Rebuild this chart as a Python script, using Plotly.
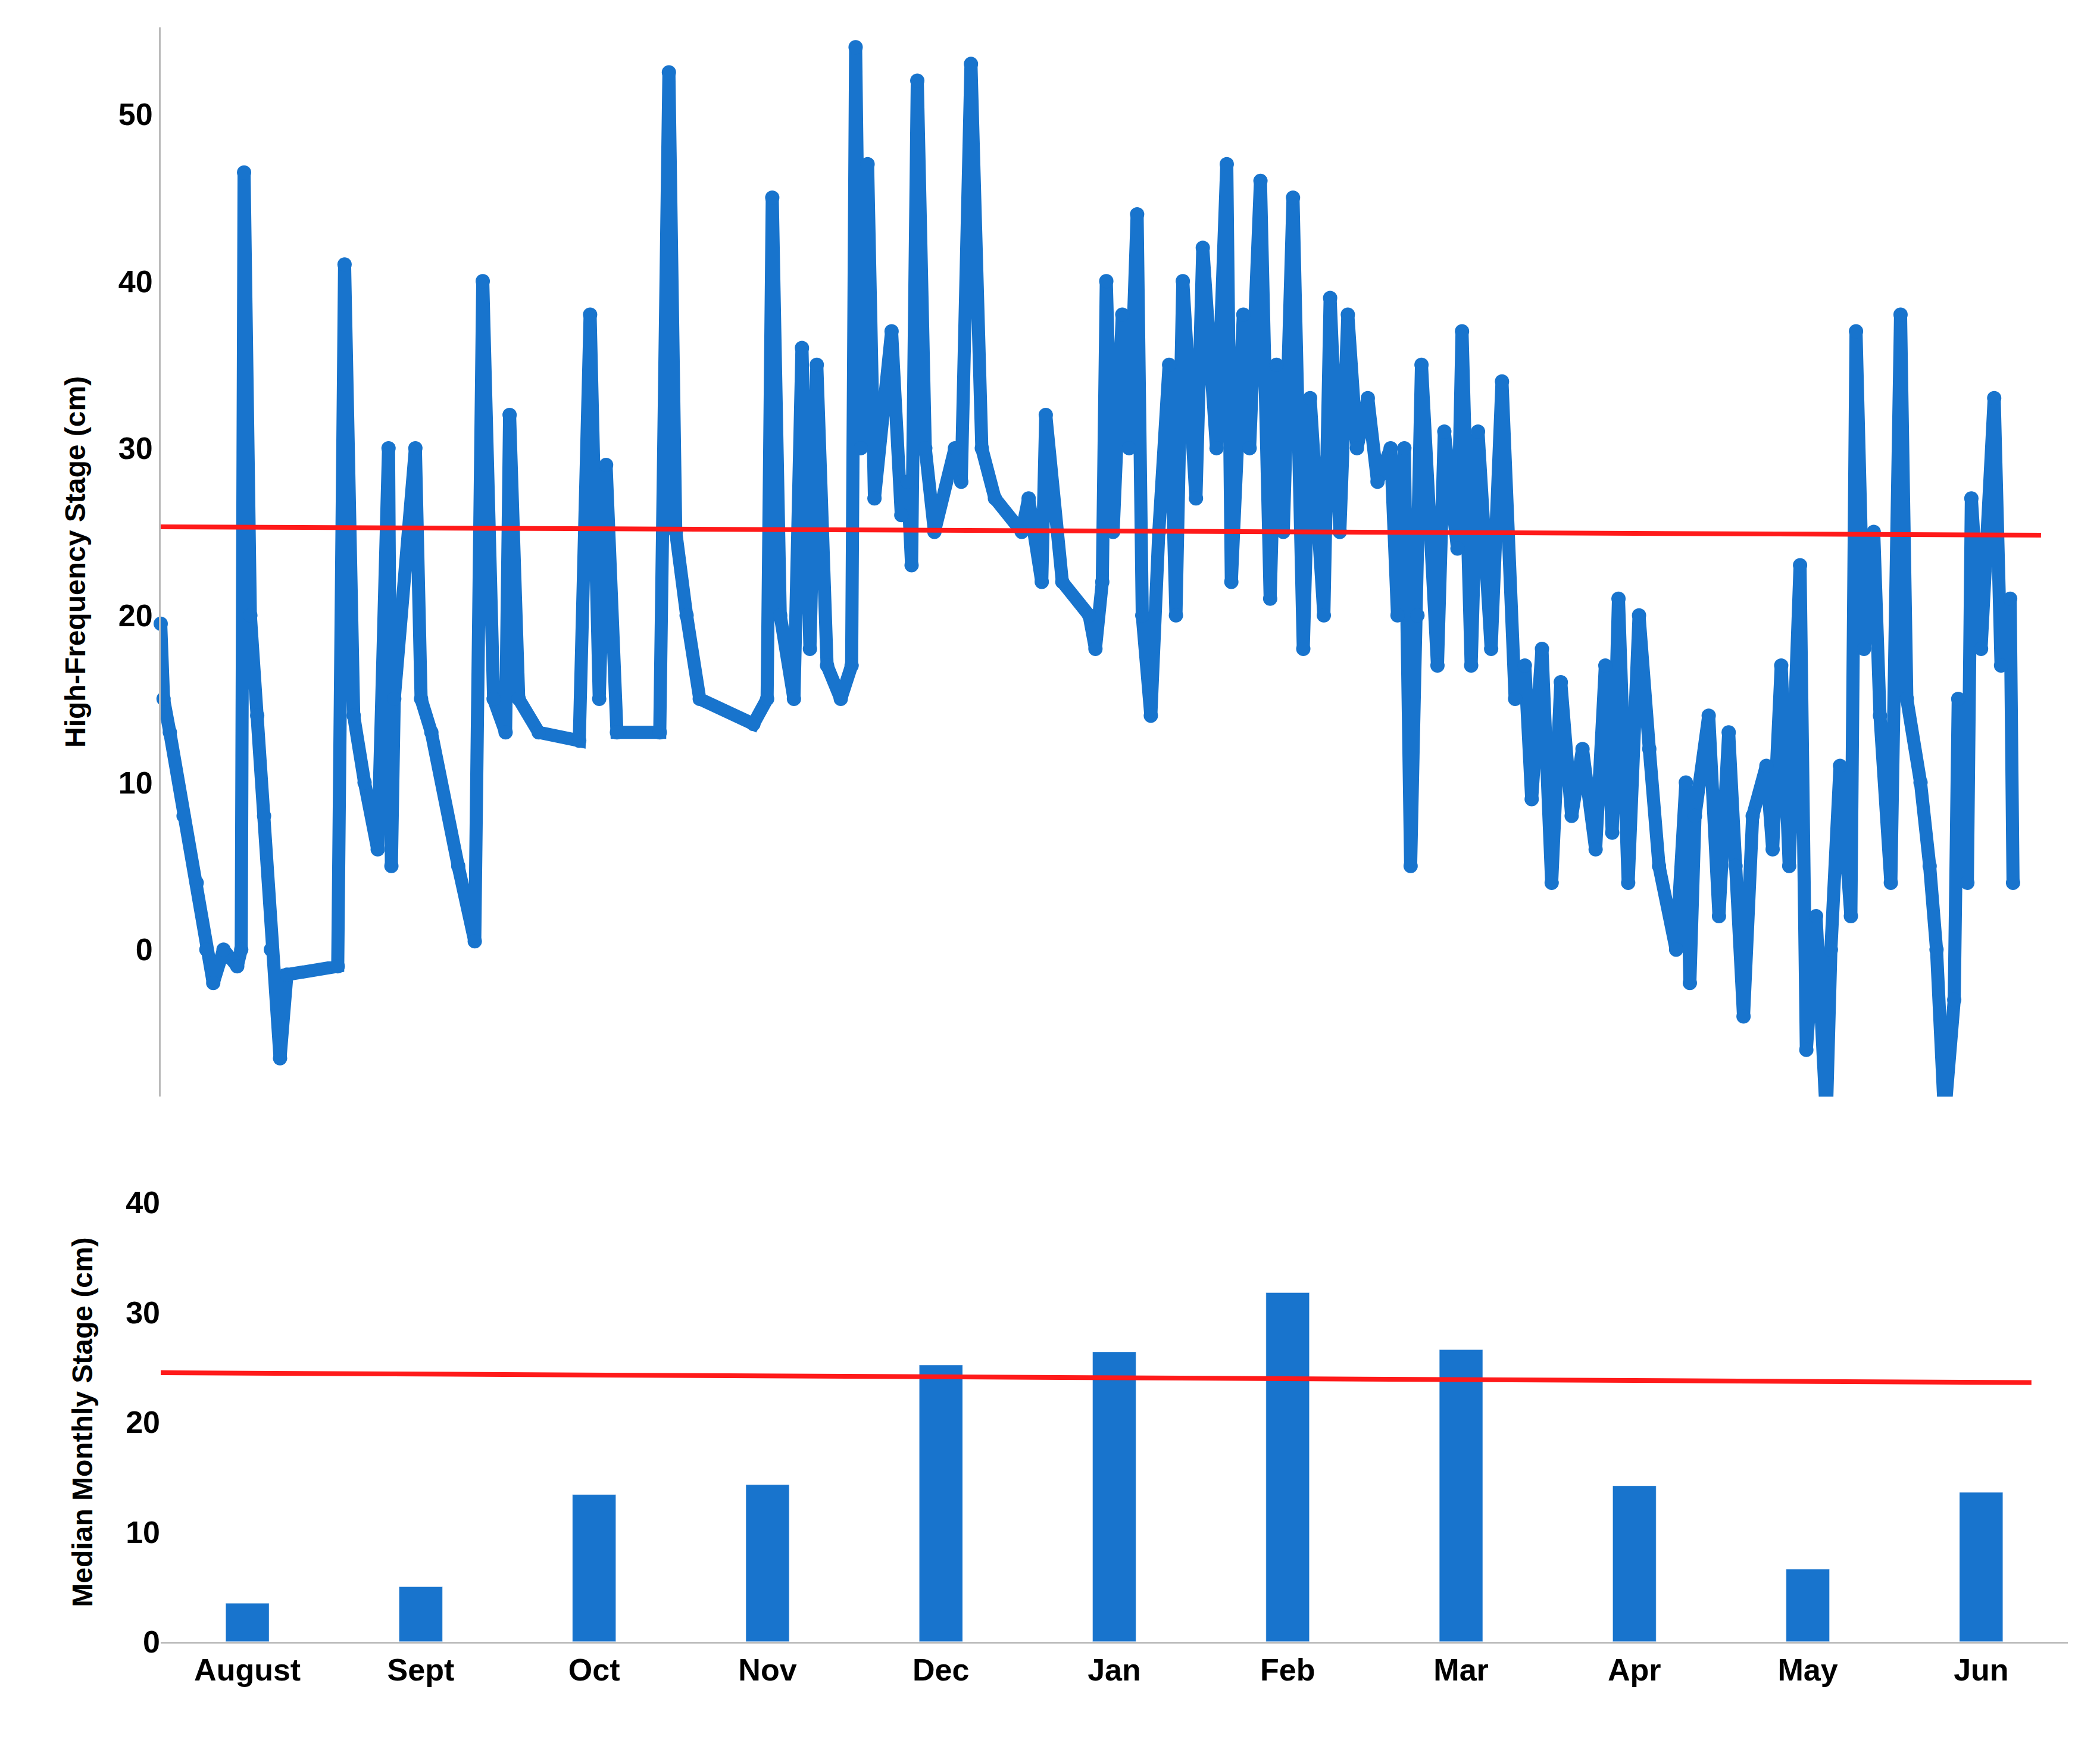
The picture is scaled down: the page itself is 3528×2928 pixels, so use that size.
import plotly.graph_objects as go

# High-frequency stage: days since Aug 1 and stage (cm)
days = [0, 0.5, 1.6, 4, 6.3, 8, 9.2, 11, 13.4, 14.1, 14.6, 15.7, 16.9, 18.1, 19.3, 20.9, 22.1, 31.0,
        32.2, 33.8, 35.7, 38.0, 39.9, 40.4, 40.9, 44.6, 45.6, 47.4, 52.1, 55.0, 56.4, 58.3, 60.4, 61.1,
        62.7, 66.2, 73.3, 75.2, 76.8, 78.0, 79.9, 87.4, 89.0, 90.2, 92.1, 94.4, 103.8, 106.2, 107.1,
        108.5, 110.9, 112.3, 113.7, 114.9, 116.7, 119.1, 121.0, 121.7, 122.6, 123.8, 125.0, 128.0,
        129.7, 130.8, 131.5, 132.5, 133.9, 135.5, 139.1, 140.2, 141.9, 143.8, 146.1, 150.8, 152.0,
        154.3, 155.0, 157.9, 162.6, 163.7, 164.9, 165.6, 166.8, 168.4, 169.6, 171.0, 171.9, 173.4,
        174.8, 176.6, 177.8, 179.0, 181.3, 182.5, 184.9, 186.7, 187.5, 189.6, 190.7, 192.6, 194.3,
        195.4, 196.6, 198.3, 200.1, 201.3, 203.7, 204.8, 206.5, 207.9, 209.5, 211.4, 213.1, 215.4,
        216.6, 217.8, 218.9, 220.1, 220.8, 223.6, 224.8, 227.1, 227.9, 229.5, 230.7, 233.0, 234.9,
        237.2, 238.9, 240.1, 241.9, 243.6, 245.2, 247.1, 249.0, 251.3, 253.0, 254.2, 255.3, 257.0,
        258.9, 260.7, 262.4, 265.4, 267.1, 267.8, 268.7, 271.1, 272.9, 274.6, 275.8, 277.2, 278.8,
        281.2, 282.3, 283.8, 285.2, 287.1, 288.2, 289.9, 291.7, 292.5, 294.1, 296.0, 296.9, 298.3,
        300.0, 301.1, 303.0, 304.7, 305.8, 308.2, 309.8, 311.0, 312.4, 314.1, 314.8, 316.4, 317.1,
        318.8, 321.1, 322.3, 323.9, 324.4]
stage = [19.5, 15, 13, 8, 4, 0, -2, 0, -1, 0, 46.5, 20, 14, 8, 0, -6.5, -1.5, -1,
         41, 14, 10, 6, 30, 5, 15, 30, 15, 13, 5, 0.5, 40, 15, 13, 32,
         15, 13, 12.5, 38, 15, 29, 13, 13, 52.5, 25, 20, 15, 13.5, 15, 45,
         20, 15, 36, 18, 35, 17, 15, 17, 54, 30, 47, 27, 37,
         26, 28, 23, 52, 30, 25, 30, 28, 53, 30, 27, 25, 27,
         22, 32, 22, 20, 18, 22, 40, 25, 38, 30, 44, 20, 14,
         25, 35, 20, 40, 27, 42, 30, 47, 22, 38, 30, 46, 21,
         35, 25, 45, 18, 33, 20, 39, 25, 38, 30, 33, 28, 30,
         20, 30, 5, 20, 35, 17, 31, 24, 37, 17, 31, 18, 34,
         15, 17, 9, 18, 4, 16, 8, 12, 6, 17, 7, 21, 4,
         20, 12, 5, 0, 10, -2, 8, 14, 2, 13, 5, -4, 8,
         11, 6, 17, 5, 23, -6, 2, -10, 0, 11, 2, 37, 18,
         25, 14, 4, 38, 15, 10, 5, 0, -10, -3, 15, 4, 27,
         18, 33, 17, 21, 4]

months = ["August", "Sept", "Oct", "Nov", "Dec", "Jan", "Feb", "Mar", "Apr", "May", "Jun"]
median_stage = [3.5, 5.0, 13.4, 14.3, 25.2, 26.4, 31.8, 26.6, 14.2, 6.6, 13.6]

trend_top_days = [0, 329.3]
trend_top_vals = [25.3, 24.8]
trend_bot_x = [-0.5, 10.29]
trend_bot_vals = [24.5, 23.6]

blue = "#1874CD"
red = "#FF1A1A"
ff = "Liberation Sans, Arial"
tickf = dict(family=ff, size=52, color="black", weight="bold")

fig = go.Figure()
fig.add_trace(go.Scatter(x=days, y=stage, mode="lines+markers", xaxis="x", yaxis="y",
                         cliponaxis=False,
                         line=dict(color=blue, width=22), marker=dict(color=blue, size=24)))
fig.add_trace(go.Scatter(x=trend_top_days, y=trend_top_vals, mode="lines", xaxis="x", yaxis="y",
                         line=dict(color=red, width=8)))
fig.add_trace(go.Bar(x=list(range(len(months))), y=median_stage, xaxis="x2", yaxis="y2",
                     marker=dict(color=blue), width=0.25))
fig.add_trace(go.Scatter(x=trend_bot_x, y=trend_bot_vals, mode="lines", xaxis="x2", yaxis="y2",
                         line=dict(color=red, width=8)))

fig.update_layout(
    width=3528, height=2928, showlegend=False,
    paper_bgcolor="white", plot_bgcolor="white",
    margin=dict(l=262, r=62, t=0, b=0),
    font=dict(family=ff, size=50, color="black"),
    xaxis=dict(domain=[0, 1], range=[0, 334], showticklabels=False, showgrid=False,
               zeroline=False, showline=False, anchor="y"),
    yaxis=dict(domain=[0.371, 0.997], range=[-8.8, 55.2], tickvals=[0, 10, 20, 30, 40, 50],
               showgrid=False, zeroline=False, showline=True, linecolor="#BBBBBB", linewidth=3,
               tickfont=tickf,
               title=dict(text="High-Frequency Stage (cm)", standoff=40,
                          font=dict(family=ff, size=48, weight="bold")),
               anchor="x", ticks=""),
    xaxis2=dict(domain=[0, 1], range=[-0.5, 10.5], tickvals=list(range(len(months))),
                ticktext=months, showgrid=False, zeroline=False, showline=True,
                linecolor="#BBBBBB", linewidth=3, anchor="y2", ticks="",
                tickfont=tickf),
    yaxis2=dict(domain=[0.052, 0.309], range=[0, 40], tickvals=[0, 10, 20, 30, 40],
                showgrid=False, zeroline=False, showline=False, anchor="x2", ticks="",
                tickfont=tickf,
                title=dict(text="Median Monthly Stage (cm)", standoff=40,
                           font=dict(family=ff, size=48, weight="bold"))),
)
fig.write_html("out.html")
